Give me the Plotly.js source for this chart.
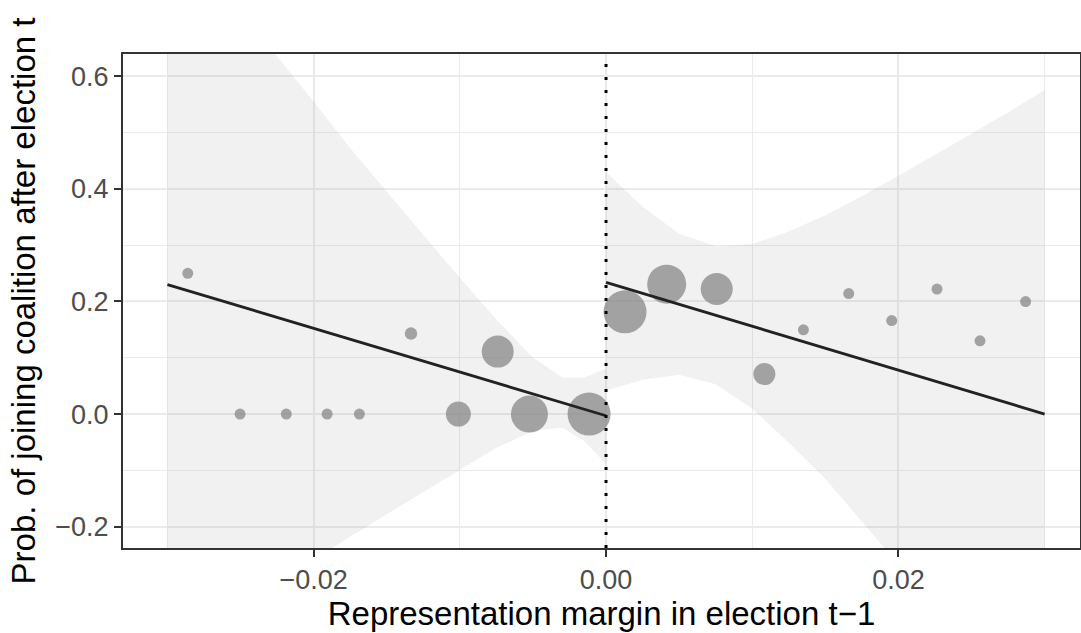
<!DOCTYPE html>
<html>
<head>
<meta charset="utf-8">
<script src="https://cdn.plot.ly/plotly-3.0.1.min.js"></script>
<style>html,body{margin:0;padding:0;background:#fff;}#chart{width:1081px;height:633px;}</style>
</head>
<body>
<div id="chart"></div>
<script>
// Observations (bin means) left and right of the threshold
const xLeft = [-0.02861, -0.02503, -0.02187, -0.01908, -0.01687, -0.01334, -0.0101, -0.00741, -0.00524, -0.00116];
const yLeft = [0.250, 0.000, 0.000, 0.000, 0.000, 0.143, 0.000, 0.111, 0.000, 0.000];
const wLeft = [11, 11, 11, 11, 11, 12.5, 25, 32, 37, 43];

const xRight = [0.0013, 0.00415, 0.00757, 0.01083, 0.0135, 0.0166, 0.01954, 0.02264, 0.02558, 0.0287];
const yRight = [0.1815, 0.2307, 0.222, 0.071, 0.1496, 0.214, 0.166, 0.222, 0.130, 0.1998];
const wRight = [43, 39, 32, 22, 11, 11, 11, 11, 11, 11];

// Fitted lines
const fitLeftX = [-0.03, 0.0];
const fitLeftY = [0.230, -0.003];
const fitRightX = [0.0, 0.03];
const fitRightY = [0.234, 0.000];

// Confidence bands
const bandLeftX = [-0.03, -0.0275, -0.025, -0.0225, -0.02, -0.0175, -0.015, -0.0125, -0.01, -0.0075, -0.005, -0.003, -0.0015, 0.0];
const bandLeftUpper = [0.875, 0.795, 0.715, 0.635, 0.555, 0.472, 0.394, 0.318, 0.242, 0.168, 0.100, 0.065, 0.065, 0.081];
const bandLeftLower = [-0.400, -0.365, -0.330, -0.295, -0.258, -0.218, -0.178, -0.138, -0.099, -0.060, -0.030, -0.024, -0.048, -0.088];

const bandRightX = [0.0, 0.0025, 0.005, 0.0075, 0.01, 0.0125, 0.015, 0.0175, 0.02, 0.0225, 0.025, 0.0275, 0.03];
const bandRightUpper = [0.430, 0.368, 0.320, 0.298, 0.302, 0.324, 0.353, 0.387, 0.423, 0.460, 0.498, 0.536, 0.575];
const bandRightLower = [0.042, 0.061, 0.070, 0.053, 0.010, -0.051, -0.115, -0.192, -0.267, -0.343, -0.420, -0.497, -0.575];

// Threshold
const cutoff = 0.0;

// Axis ticks
const xTicks = [-0.02, 0.0, 0.02];
const xTickText = ["\u22120.02", "0.00", "0.02"];
const yTicks = [-0.2, 0.0, 0.2, 0.4, 0.6];
const yTickText = ["\u22120.2", "0.0", "0.2", "0.4", "0.6"];

function band(xs, up, lo) {
  return {
    x: xs.concat(xs.slice().reverse()),
    y: up.concat(lo.slice().reverse()),
    type: 'scatter', mode: 'lines', fill: 'toself',
    fillcolor: 'rgba(153,153,153,0.14)',
    line: {width: 0, color: 'rgba(0,0,0,0)'},
    hoverinfo: 'skip', showlegend: false
  };
}

const traces = [
  band(bandLeftX, bandLeftUpper, bandLeftLower),
  band(bandRightX, bandRightUpper, bandRightLower),
  {x: xLeft, y: yLeft, type: 'scatter', mode: 'markers',
   marker: {size: wLeft, color: '#808080', line: {width: 0}}, showlegend: false},
  {x: xRight, y: yRight, type: 'scatter', mode: 'markers',
   marker: {size: wRight, color: '#808080', line: {width: 0}}, showlegend: false},
  {x: fitLeftX, y: fitLeftY, type: 'scatter', mode: 'lines',
   line: {color: '#222222', width: 2.8}, showlegend: false},
  {x: fitRightX, y: fitRightY, type: 'scatter', mode: 'lines',
   line: {color: '#222222', width: 2.8}, showlegend: false}
];

const fontFam = '"Liberation Sans", Arial, Helvetica, sans-serif';

const layout = {
  width: 1081, height: 633,
  margin: {l: 123, r: 1, t: 54, b: 85},
  paper_bgcolor: '#ffffff', plot_bgcolor: '#ffffff',
  font: {family: fontFam},
  showlegend: false,
  xaxis: {
    range: [-0.03304, 0.03242],
    tickvals: xTicks, ticktext: xTickText,
    tickfont: {size: 27, color: '#4D4D4D', family: fontFam},
    ticks: 'outside', ticklen: 7, tickwidth: 2, tickcolor: '#333333',
    showgrid: true, gridcolor: '#EBEBEB', gridwidth: 2,
    minor: {dtick: 0.01, tick0: 0.01, showgrid: true, gridcolor: '#EBEBEB', gridwidth: 1, ticks: ''},
    zeroline: false,
    showline: true, linecolor: '#333333', linewidth: 2, mirror: true,
    title: {text: 'Representation margin in election t\u22121', font: {size: 33, color: '#000000', family: fontFam}, standoff: 6},
    automargin: false
  },
  yaxis: {
    range: [-0.2378, 0.6394],
    tickvals: yTicks, ticktext: yTickText,
    tickfont: {size: 27, color: '#4D4D4D', family: fontFam},
    ticks: 'outside', ticklen: 7, tickwidth: 2, tickcolor: '#333333',
    showgrid: true, gridcolor: '#EBEBEB', gridwidth: 2,
    minor: {dtick: 0.2, tick0: 0.1, showgrid: true, gridcolor: '#EBEBEB', gridwidth: 1, ticks: ''},
    zeroline: false,
    showline: true, linecolor: '#333333', linewidth: 2, mirror: true,
    title: {text: 'Prob. of joining coalition after election t', font: {size: 33, color: '#000000', family: fontFam}, standoff: 10},
    automargin: false
  },
  shapes: [{
    type: 'line', xref: 'x', yref: 'paper', x0: cutoff, x1: cutoff, y0: 0, y1: 1,
    line: {color: '#000000', width: 3, dash: '3px,10px'}, layer: 'above'
  }]
};

Plotly.newPlot('chart', traces, layout, {displayModeBar: false, staticPlot: true});
</script>
</body>
</html>
